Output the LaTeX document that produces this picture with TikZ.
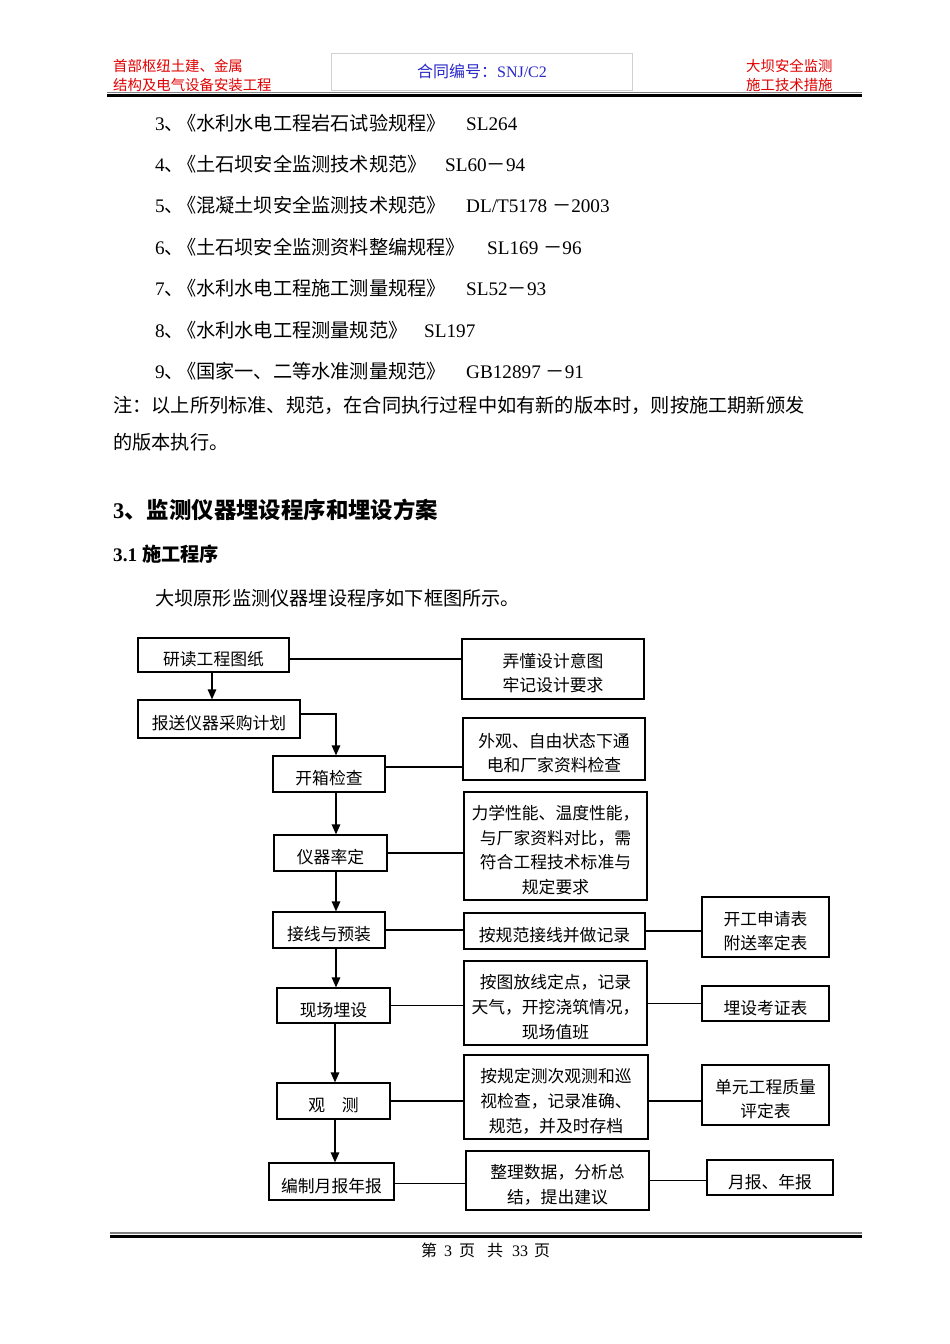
\documentclass[tikz,border=0pt]{standalone}
\usepackage{fontspec}
\setmainfont{Liberation Serif}
\newfontfamily\cj{Noto Sans CJK SC}
\usetikzlibrary{arrows.meta,shadows}
\definecolor{hdred}{RGB}{225,0,0}
\definecolor{hdblue}{RGB}{40,40,200}
\newcommand{\dkp}{、\hspace{-7pt}《}
\newcommand{\fl}{\rule{0pt}{22.5pt}}
\begin{document}
\begin{tikzpicture}[x=1pt,y=-1pt,
  txt/.style={anchor=west, inner sep=0pt, text height=0.88em, text depth=0.12em, yshift=-4pt},
  body/.style={txt, font=\fontsize{19.2}{23}\selectfont},
  hd/.style={txt, yshift=1.5pt, text=hdred, font=\cj\fontsize{14.4}{17}\selectfont},
  box/.style={draw, line width=1.2pt, fill=white, inner sep=0pt, align=center,
    font=\cj\fontsize{16.8}{24.8}\selectfont,
    drop shadow={shadow xshift=1.1pt, shadow yshift=-1.1pt, opacity=1, fill=black}},
  conn/.style={line width=1.3pt},
  arr/.style={conn, -{Triangle[length=10pt,width=8.5pt]}}]
\useasboundingbox[fill=white] (0,0) rectangle (950,1344);

% header
\node[hd] (h1) at (113,65) {首部枢纽土建、金属};
\node[hd] (h2) at (113,84) {结构及电气设备安装工程};
\node[draw=gray!35, line width=0.8pt, minimum width=301pt, minimum height=37pt, inner sep=0pt] (hb) at (481.5,71.5) {};
\node[inner sep=0pt, text=hdblue, font=\fontsize{16}{19}\selectfont] (hbt) at (482,71) {{\cj 合同编号：}SNJ/C2};
\node[hd] (h3) at (746,65) {大坝安全监测};
\node[hd] (h4) at (746,84) {施工技术措施};
\draw[gray, line width=1pt] (107,92) -- (862,92);
\draw[line width=2.6pt] (107,95.6) -- (862,95.6);

% list
\node[body] (l3) at (155,123) {3{\cj \dkp 水利水电工程岩石试验规程》}};
\node[body] (c3) at (466,123) {SL264};
\node[body] (l4) at (155,164) {4{\cj \dkp 土石坝安全监测技术规范》}};
\node[body] (c4) at (445,164) {SL60{\cj －}94};
\node[body] (l5) at (155,205) {5{\cj \dkp 混凝土坝安全监测技术规范》}};
\node[body] (c5) at (466,205) {DL/T5178 {\cj －}2003};
\node[body] (l6) at (155,247) {6{\cj \dkp 土石坝安全监测资料整编规程》}};
\node[body] (c6) at (487,247) {SL169 {\cj －}96};
\node[body] (l7) at (155,288) {7{\cj \dkp 水利水电工程施工测量规程》}};
\node[body] (c7) at (466,288) {SL52{\cj －}93};
\node[body] (l8) at (155,330) {8{\cj \dkp 水利水电工程测量规范》}};
\node[body] (c8) at (424,330) {SL197};
\node[body] (l9) at (155,371) {9{\cj \dkp 国家一、二等水准测量规范》}};
\node[body] (c9) at (466,371) {GB12897 {\cj －}91};
\node[body, font=\cj\fontsize{19.2}{23}\selectfont] (note1) at (113,405) {注：以上所列标准、规范，在合同执行过程中如有新的版本时，则按施工期新颁发};
\node[body, font=\cj\fontsize{19.2}{23}\selectfont] (note2) at (113,442) {的版本执行。};

\node[txt, font=\bfseries\fontsize{22.4}{26}\selectfont] (sec) at (113,511) {3{\cj\bfseries 、监测仪器埋设程序和埋设方案}};
\node[txt, font=\bfseries\fontsize{19.2}{23}\selectfont] (sub) at (113,554) {3.1 {\cj\bfseries 施工程序}};
\node[body, font=\cj\fontsize{19.2}{23}\selectfont] (intro) at (155,598) {大坝原形监测仪器埋设程序如下框图所示。};

% flowchart
\node[box, minimum width=151pt, minimum height=34pt] (n1) at (213.5,655) {\fl 研读工程图纸};
\node[box, minimum width=182pt, minimum height=60pt] (n2) at (553,669) {\fl 弄懂设计意图\\牢记设计要求};
\node[box, minimum width=162pt, minimum height=38pt] (n3) at (219,719) {\fl 报送仪器采购计划};
\node[box, minimum width=112pt, minimum height=36pt] (n4) at (329,774) {\fl 开箱检查};
\node[box, minimum width=182pt, minimum height=62pt] (n5) at (554,749) {\fl 外观、自由状态下通\\电和厂家资料检查};
\node[box, minimum width=113pt, minimum height=36pt] (n6) at (330.5,853) {\fl 仪器率定};
\node[box, minimum width=183pt, minimum height=108pt] (n7) at (555.5,846) {\fl 力学性能、温度性能，\\与厂家资料对比，需\\符合工程技术标准与\\规定要求};
\node[box, minimum width=112pt, minimum height=36pt] (n8) at (329,930) {\fl 接线与预装};
\node[box, minimum width=181pt, minimum height=36pt] (n9) at (554.5,931) {\fl 按规范接线并做记录};
\node[box, minimum width=127pt, minimum height=60pt] (n10) at (765.5,927) {\fl 开工申请表\\附送率定表};
\node[box, minimum width=113pt, minimum height=35pt] (n11) at (333.5,1005.5) {\fl 现场埋设};
\node[box, minimum width=183pt, minimum height=84pt] (n12) at (555.5,1003) {\fl 按图放线定点，记录\\天气，开挖浇筑情况，\\现场值班};
\node[box, minimum width=127pt, minimum height=35pt] (n13) at (765.5,1003.5) {\fl 埋设考证表};
\node[box, minimum width=113pt, minimum height=36pt] (n14) at (333.5,1101) {\fl 观　测};
\node[box, minimum width=184pt, minimum height=84pt] (n15) at (556,1097) {\fl 按规定测次观测和巡\\视检查，记录准确、\\规范，并及时存档};
\node[box, minimum width=127pt, minimum height=60pt] (n16) at (765.5,1095) {\fl 单元工程质量\\评定表};
\node[box, minimum width=125pt, minimum height=37pt] (n17) at (331.5,1181.5) {\fl 编制月报年报};
\node[box, minimum width=183pt, minimum height=59pt] (n18) at (557.5,1180.5) {\fl 整理数据，分析总\\结，提出建议};
\node[box, minimum width=126pt, minimum height=35pt] (n19) at (770,1177.5) {\fl 月报、年报};

\draw[conn] ([yshift=-4pt]n1.east) -- ([yshift=-4pt]n1.east -| n2.west);
\draw[arr] ([xshift=-1.5pt]n1.south) -- ([xshift=-1.5pt]n1.south |- n3.north);
\draw[arr] ([yshift=5pt]n3.east) -| ([xshift=7pt]n4.north);
\draw[conn] ([yshift=7pt]n4.east) -- ([yshift=7pt]n4.east -| n5.west);
\draw[arr] ([xshift=7pt]n4.south) -- ([xshift=7pt]n4.south |- n6.north);
\draw[conn] (n6.east) -- (n6.east -| n7.west);
\draw[arr] ([xshift=5.5pt]n6.south) -- ([xshift=5.5pt]n6.south |- n8.north);
\draw[conn] (n8.east) -- (n8.east -| n9.west);
\draw[conn] (n9.east) -- (n9.east -| n10.west);
\draw[arr] ([xshift=7pt]n8.south) -- ([xshift=7pt]n8.south |- n11.north);
\draw[conn] (n11.east) -- (n11.east -| n12.west);
\draw[conn] (n13.west -| n12.east) -- (n13.west);
\draw[arr] ([xshift=1.5pt]n11.south) -- ([xshift=1.5pt]n11.south |- n14.north);
\draw[conn] (n14.east) -- (n14.east -| n15.west);
\draw[conn] (n14.east -| n15.east) -- (n14.east -| n16.west);
\draw[arr] ([xshift=1.5pt]n14.south) -- ([xshift=1.5pt]n14.south |- n17.north);
\draw[conn] ([yshift=-2pt]n17.east) -- ([yshift=-2pt]n17.east -| n18.west);
\draw[conn] (n18.east) -- (n18.east -| n19.west);

% footer
\draw[gray, line width=1.3pt] (110,1233) -- (862,1233);
\draw[line width=3pt] (110,1236.8) -- (862,1236.8);
\node[inner sep=0pt, font=\fontsize{16}{19}\selectfont] (foot) at (485.5,1250) {{\cj 第}\hspace{7pt}3\hspace{7pt}{\cj 页}\hspace{12pt}{\cj 共}\hspace{9pt}33\hspace{6pt}{\cj 页}};
\end{tikzpicture}
\end{document}
